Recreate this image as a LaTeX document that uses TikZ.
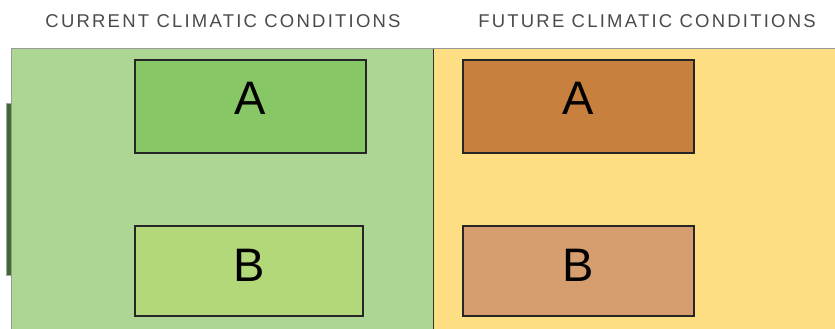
\documentclass[tikz,border=0pt]{standalone}
\usepackage{fontspec}
\setmainfont{Liberation Sans}
\newfontfamily\titlefont[LetterSpace=12]{Liberation Sans}
\definecolor{panelgreen}{HTML}{ADD593}
\definecolor{panelyellow}{HTML}{FDDE83}
\definecolor{boxgreenA}{HTML}{88C765}
\definecolor{boxgreenB}{HTML}{B3D87A}
\definecolor{boxorangeA}{HTML}{C8803F}
\definecolor{boxorangeB}{HTML}{D69E6F}
\definecolor{titlegray}{HTML}{4A4A4A}
\definecolor{bargreen}{HTML}{3E6A30}
\begin{document}
\begin{tikzpicture}[x=1pt,y=-1pt,
  panel/.style={draw=none, inner sep=0pt, outer sep=0pt},
  cbox/.style={draw=black!85, line width=1.2pt, inner sep=0pt},
  letter/.style={font=\fontsize{47}{47}\selectfont, text=black, inner sep=0pt},
  title/.style={font=\titlefont\fontsize{18.5}{18.5}\selectfont, text=titlegray, inner sep=0pt}]
\useasboundingbox (0,0) rectangle (835,329);
% panels
\fill[panelgreen] (11,49) rectangle (433,329);
\fill[panelyellow] (433,49) rectangle (835,329);
\draw[gray!80, line width=1pt] (11,329) -- (11,49) -- (835,49);
\draw[black!80, line width=1pt] (433,49) -- (433,329);
% left bar
\fill[bargreen] (6,103) rectangle (11,275);
\draw[gray!70, line width=0.5pt] (11,103) -- (6,103) -- (6,275) -- (11,275);
% titles
\node[title] (t1) at (223,21) {CURRENT CLIMATIC CONDITIONS};
\node[title] (t2) at (647,21) {FUTURE CLIMATIC CONDITIONS};
% boxes
\node[cbox, fill=boxgreenA, minimum width=231pt, minimum height=93pt] (ga) at (250.5,106.5) {};
\node[cbox, fill=boxgreenB, minimum width=228pt, minimum height=90pt] (gb) at (249,271) {};
\node[cbox, fill=boxorangeA, minimum width=231pt, minimum height=93pt] (oa) at (578.5,106.5) {};
\node[cbox, fill=boxorangeB, minimum width=231pt, minimum height=90pt] (ob) at (578.5,271) {};
% letters
\node[letter] (la1) at ([yshift=8.5pt]ga.center) {A};
\node[letter] (lb1) at ([yshift=6pt]gb.center) {B};
\node[letter] (la2) at ([yshift=8.5pt]oa.center) {A};
\node[letter] (lb2) at ([yshift=6pt]ob.center) {B};
\end{tikzpicture}
\end{document}
